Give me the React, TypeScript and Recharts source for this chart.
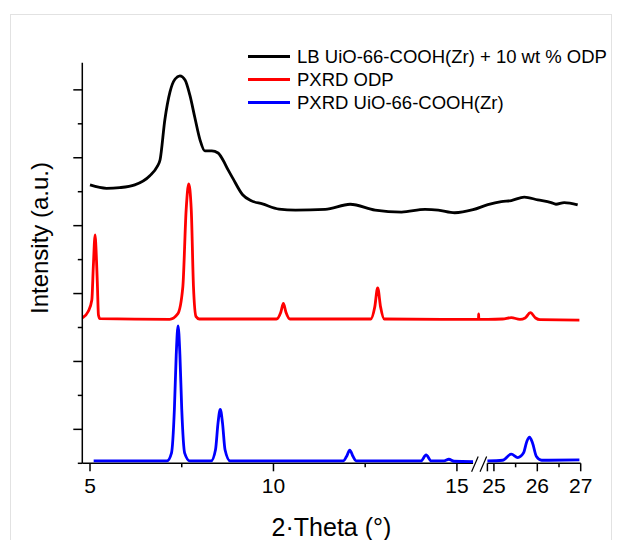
import { LineChart, Line, XAxis, YAxis, ReferenceLine, Legend, Label } from "recharts"

// [2θ (°), intensity (a.u., stacked)]
const LB_COMPOSITE: [number, number][] = [
  [5.0, 8.2], [5.45, 8.1], [5.81, 8.12], [6.22, 8.2], [6.63, 8.47], [6.83, 8.74],
  [6.91, 8.94], [7.04, 10.12], [7.18, 10.94], [7.32, 11.32], [7.45, 11.41], [7.59, 11.29],
  [7.72, 10.85], [7.86, 10.17], [8.0, 9.52], [8.13, 9.2], [8.32, 9.2], [8.49, 9.14],
  [8.62, 8.94], [8.76, 8.65], [8.89, 8.4], [9.16, 7.91], [9.38, 7.74], [9.7, 7.64],
  [10.15, 7.49], [10.6, 7.46], [11.41, 7.48], [12.09, 7.63], [12.77, 7.46], [13.49, 7.4],
  [14.13, 7.48], [14.49, 7.46], [14.94, 7.38], [15.44, 7.47],
  [24.86, 7.62], [25.17, 7.71], [25.4, 7.74], [25.7, 7.84], [26.01, 7.76], [26.32, 7.68],
  [26.43, 7.63], [26.62, 7.68], [26.93, 7.61],
]

const PXRD_ODP: [number, number][] = [
  [4.8, 4.29], [4.95, 4.47], [5.05, 4.81], [5.09, 5.79], [5.14, 6.73], [5.16, 6.4],
  [5.2, 5.31], [5.23, 4.37], [5.27, 4.26], [7.17, 4.24], [7.39, 4.4], [7.53, 5.2],
  [7.62, 7.46], [7.69, 8.23], [7.76, 7.46], [7.82, 5.2], [7.89, 4.32], [7.98, 4.25],
  [10.08, 4.25], [10.2, 4.45], [10.27, 4.71], [10.34, 4.45], [10.45, 4.25],
  [12.65, 4.25], [12.76, 4.6], [12.84, 5.17], [12.92, 4.6], [13.02, 4.25],
  [15.44, 4.24], [19.0, 4.24], [19.1, 4.4], [19.2, 4.24],
  [24.86, 4.24], [25.2, 4.25], [25.4, 4.29], [25.6, 4.24], [25.72, 4.28], [25.84, 4.44],
  [25.96, 4.28], [26.06, 4.23], [26.97, 4.22],
]

const UIO_LOW: [number, number][] = [
  [5.1, 0.07], [7.1, 0.07], [7.22, 0.3], [7.3, 1.6], [7.35, 3.2], [7.4, 4.05], [7.45, 3.2],
  [7.5, 1.6], [7.58, 0.3], [7.72, 0.07], [8.3, 0.07], [8.42, 0.4], [8.49, 1.2], [8.55, 1.59],
  [8.61, 1.2], [8.68, 0.4], [8.82, 0.07], [11.9, 0.07], [11.99, 0.2], [12.08, 0.39],
  [12.17, 0.2], [12.25, 0.07], [14.02, 0.07], [14.16, 0.245], [14.3, 0.07], [14.65, 0.07],
  [14.78, 0.12], [14.92, 0.06], [15.44, 0.05],
]

const UIO_HIGH: [number, number][] = [
  [24.85, 0.07], [25.2, 0.09], [25.4, 0.27], [25.55, 0.17], [25.68, 0.3], [25.76, 0.65],
  [25.82, 0.77], [25.89, 0.6], [25.98, 0.2], [26.1, 0.09], [26.97, 0.1],
]

const X_TICKS = [5, 7.5, 10, 12.5, 15, 25, 25.5, 26, 26.5, 27]
const X_LABELED = [5, 10, 15, 25, 26, 27]
const Y_TICKS = [0, 1, 2, 3, 4, 5, 6, 7, 8, 9, 10, 11]
const Y_MAJOR = [1, 3, 5, 7, 9, 11]

const SERIES = [
  { name: "LB UiO-66-COOH(Zr) + 10 wt % ODP", color: "#000000" },
  { name: "PXRD ODP", color: "#ff0000" },
  { name: "PXRD UiO-66-COOH(Zr)", color: "#0000ff" },
]

// broken axis: 5–15.44° as is, then 24.85–27° a bit stretched, squeezed gap between
const LOW_END = 15.44
const HIGH_START = 24.85
const HIGH_ORIGIN = 16.008 // axis position of 25°
const HIGH_STRETCH = 1.1826
const X_MIN = 4.79

function toAxis(t: number): number {
  if (t <= LOW_END) return t
  if (t >= HIGH_START) return HIGH_ORIGIN + (t - 25) * HIGH_STRETCH
  const gapEnd = toAxis(HIGH_START)
  return LOW_END + ((t - LOW_END) / (HIGH_START - LOW_END)) * (gapEnd - LOW_END)
}

const toRows = (pts: [number, number][]) => pts.map(([t, v]) => ({ u: toAxis(t), v }))

const blackData = toRows(LB_COMPOSITE)
const redData = toRows(PXRD_ODP)
const blueData = [
  ...toRows(UIO_LOW),
  { u: (LOW_END + toAxis(HIGH_START)) / 2, v: null },
  ...toRows(UIO_HIGH),
]

const FONT = "Arial, 'Liberation Sans', sans-serif"
const gapEnd = toAxis(HIGH_START)
const xTickValues = [...X_TICKS.map(toAxis), gapEnd]

function XTick(props: any) {
  const { x, y, payload } = props
  const t = X_TICKS.find((v) => Math.abs(toAxis(v) - payload.value) < 1e-6)
  const labeled = t !== undefined && X_LABELED.includes(t)
  const len = t === undefined || labeled ? 8 : 4
  return (
    <g>
      <line x1={x} x2={x} y1={y} y2={y + len} stroke="#000" strokeWidth={1.5} />
      {labeled && (
        <text x={x} y={y + 30} textAnchor="middle" fontSize={21} fontFamily={FONT} fill="#000">
          {t}
        </text>
      )}
    </g>
  )
}

function YTick(props: any) {
  const { x, y, payload } = props
  const len = Y_MAJOR.includes(payload.value) ? 9 : 4.5
  return <line x1={x - len} x2={x} y1={y} y2={y} stroke="#000" strokeWidth={1.5} />
}

function LegendBox() {
  return (
    <div style={{ fontFamily: FONT, fontSize: 18.5, color: "#000" }}>
      {SERIES.map((s) => (
        <div key={s.name} style={{ display: "flex", alignItems: "center", height: 23, whiteSpace: "nowrap" }}>
          <svg width={49} height={23}>
            <line x1={0} x2={42} y1={11.5} y2={11.5} stroke={s.color} strokeWidth={3} />
          </svg>
          <span>{s.name}</span>
        </div>
      ))}
    </div>
  )
}

const slash = (offset: number) => [
  { x: LOW_END - 0.04 + offset, y: -0.25 },
  { x: LOW_END + 0.14 + offset, y: 0.2 },
]

export default function App() {
  return (
    <div style={{ position: "relative", width: 604, height: 532 }}>
      <div
        style={{
          position: "absolute",
          left: 2,
          top: 6,
          width: 602,
          height: 540,
          boxSizing: "border-box",
          border: "1px solid #e2e2e2",
        }}
      />
      <div style={{ position: "absolute", left: 0, top: 0 }}>
        <LineChart width={600} height={532} margin={{ top: 54.7, right: 27.3, left: 0, bottom: 0 }}>
          <XAxis
            type="number"
            dataKey="u"
            domain={[X_MIN, toAxis(27)]}
            ticks={xTickValues}
            interval={0}
            height={76.7}
            axisLine={false}
            tickLine={false}
            tickSize={0}
            tickMargin={0}
            tick={<XTick />}
          >
            <Label
              content={({ viewBox }: any) => (
                <text
                  x={viewBox.x + viewBox.width / 2}
                  y={viewBox.y + 73}
                  textAnchor="middle"
                  fontSize={25}
                  fontFamily={FONT}
                  fill="#000"
                >
                  2·Theta (°)
                </text>
              )}
            />
          </XAxis>
          <YAxis
            type="number"
            domain={[0, 11.8]}
            ticks={Y_TICKS}
            interval={0}
            width={74.3}
            axisLine={{ stroke: "#000", strokeWidth: 1.5 }}
            tickLine={false}
            tickSize={0}
            tickMargin={0}
            tick={<YTick />}
          >
            <Label
              content={({ viewBox }: any) => {
                const cx = 31
                const cy = viewBox.y + viewBox.height / 2 - 25
                return (
                  <text
                    x={cx}
                    y={cy}
                    transform={`rotate(-90 ${cx} ${cy})`}
                    textAnchor="middle"
                    dominantBaseline="central"
                    fontSize={24}
                    fontFamily={FONT}
                    fill="#000"
                  >
                    Intensity (a.u.)
                  </text>
                )
              }}
            />
          </YAxis>
          <ReferenceLine
            segment={[{ x: X_MIN, y: 0 }, { x: LOW_END, y: 0 }]}
            stroke="#000"
            strokeWidth={1.5}
            ifOverflow="visible"
          />
          <ReferenceLine
            segment={[{ x: gapEnd, y: 0 }, { x: toAxis(27), y: 0 }]}
            stroke="#000"
            strokeWidth={1.5}
            ifOverflow="visible"
          />
          <ReferenceLine segment={slash(0)} stroke="#000" strokeWidth={1.2} ifOverflow="visible" />
          <ReferenceLine segment={slash(0.23)} stroke="#000" strokeWidth={1.2} ifOverflow="visible" />
          <Line
            data={blackData}
            dataKey="v"
            name={SERIES[0].name}
            type="monotone"
            stroke={SERIES[0].color}
            strokeWidth={2.8}
            dot={false}
            isAnimationActive={false}
          />
          <Line
            data={redData}
            dataKey="v"
            name={SERIES[1].name}
            type="monotone"
            stroke={SERIES[1].color}
            strokeWidth={2.8}
            dot={false}
            isAnimationActive={false}
          />
          <Line
            data={blueData}
            dataKey="v"
            name={SERIES[2].name}
            type="monotone"
            stroke={SERIES[2].color}
            strokeWidth={2.8}
            dot={false}
            connectNulls={false}
            isAnimationActive={false}
          />
          <Legend
            layout="vertical"
            align="center"
            verticalAlign="middle"
            content={<LegendBox />}
            wrapperStyle={{ top: 37.2, left: 240, width: "auto", height: "auto" }}
          />
        </LineChart>
      </div>
    </div>
  )
}
